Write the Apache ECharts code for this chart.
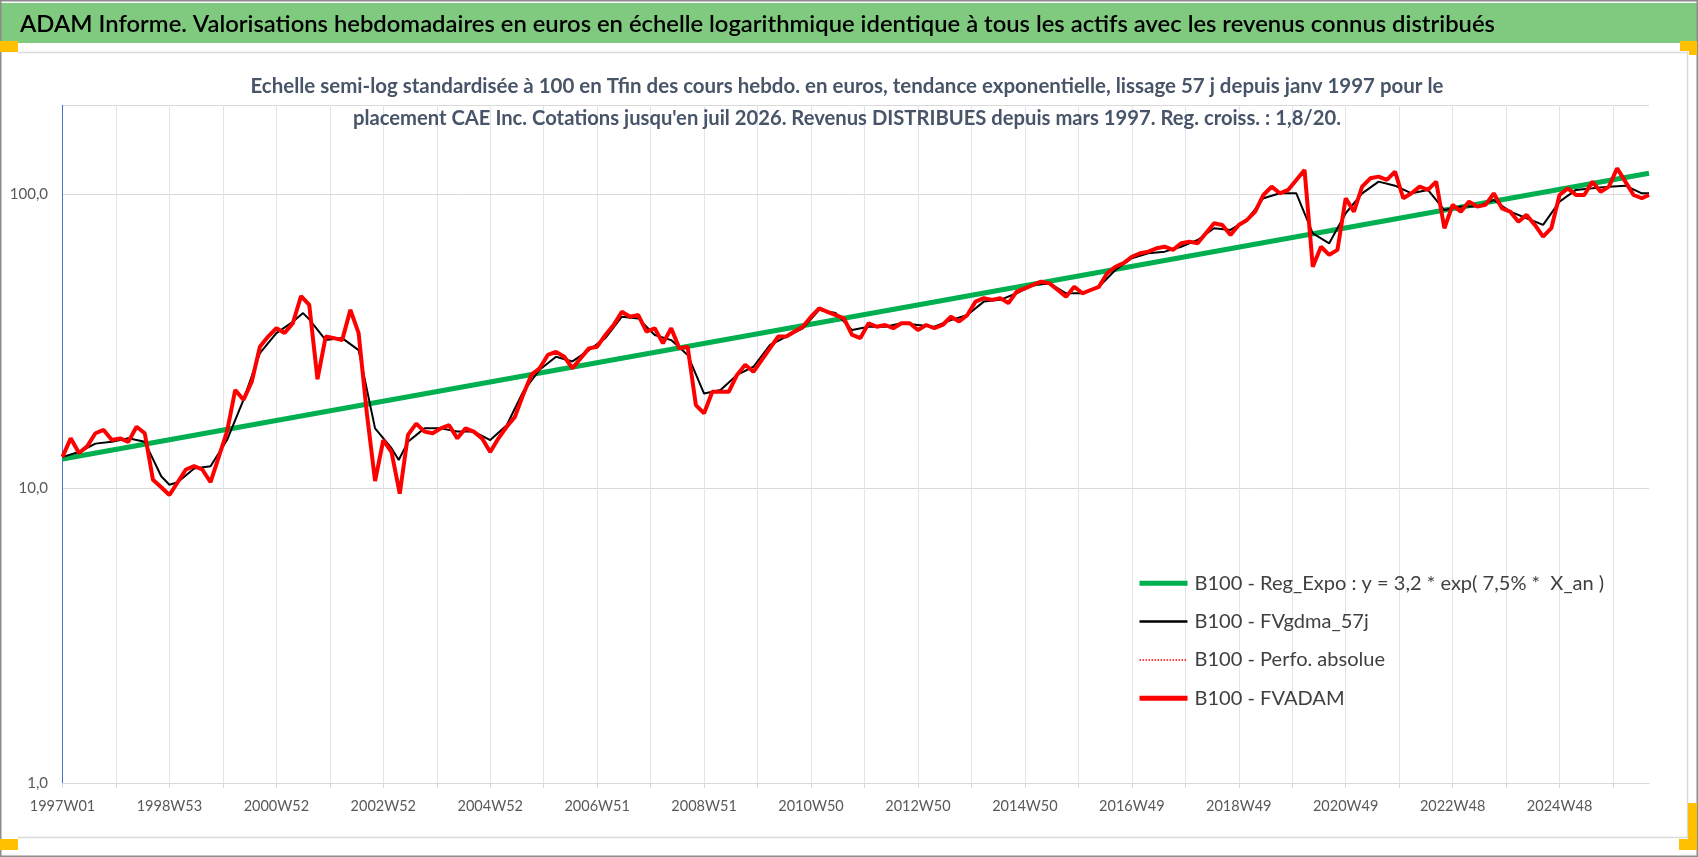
<!DOCTYPE html>
<html>
<head>
<meta charset="utf-8">
<script src="https://cdn.jsdelivr.net/npm/echarts@6/dist/echarts.min.js"></script>
<style>
html,body{margin:0;padding:0;background:#fff;}
#c{width:1698px;height:857px;}
</style>
</head>
<body>
<div id="c"></div>
<script>
// ---------- texts ----------
const mainTitle = "ADAM Informe. Valorisations hebdomadaires en euros en échelle logarithmique identique à tous les actifs avec les revenus connus distribués";
const subTitleLines = [
  "Echelle semi-log standardisée à 100 en Tfin des cours hebdo. en euros, tendance exponentielle, lissage 57 j depuis janv 1997 pour le",
  "placement CAE Inc. Cotations jusqu'en juil 2026. Revenus DISTRIBUES depuis mars 1997. Reg. croiss. : 1,8/20."
];
const seriesNames = [
  "B100 - Reg_Expo : y = 3,2 * exp( 7,5% *  X_an )",
  "B100 - FVgdma_57j",
  "B100 - Perfo. absolue",
  "B100 - FVADAM"
];

// ---------- categories: weekly from 1997-01-01 (ISO week labels) ----------
const weekCount = 1544;
const firstWeekUTC = Date.UTC(1997, 0, 1);
function isoWeekLabel(ms) {
  const t = new Date(ms);
  const day = t.getUTCDay() || 7;
  t.setUTCDate(t.getUTCDate() + 4 - day);
  const y = t.getUTCFullYear();
  const w = Math.ceil(((t - Date.UTC(y, 0, 1)) / 86400000 + 1) / 7);
  return y + "W" + String(w).padStart(2, "0");
}
const weekLabels = [];
for (let i = 0; i < weekCount; i++) weekLabels.push(isoWeekLabel(firstWeekUTC + i * 7 * 86400000));

// ---------- y tick labels ----------
const yTickLabels = { 1: "1,0", 10: "10,0", 100: "100,0" };

// ---------- series values ----------
// FVADAM: one reading every 8 weeks (week 0, 8, 16, ...), last reading at the final week
const fvadamStep = 8;
const fvadamValues = [
  12.8, 14.8, 13.2, 13.9, 15.4, 15.8, 14.6, 14.8, 14.4, 16.2,
  15.4, 10.7, 10.1, 9.5, 10.5, 11.6, 11.9, 11.6, 10.5, 12.8,
  15.6, 21.6, 20.0, 23.0, 30.3, 32.8, 35.0, 33.7, 36.4, 45.0,
  42.0, 23.5, 32.8, 32.4, 31.9, 40.4, 33.7, 18.0, 10.6, 14.6,
  13.3, 9.6, 15.2, 16.6, 15.6, 15.4, 16.0, 16.4, 14.8, 16.0,
  15.6, 14.8, 13.3, 14.8, 16.2, 17.5, 20.8, 24.3, 25.6, 28.4,
  29.1, 28.0, 25.6, 27.7, 29.9, 30.3, 33.2, 35.9, 39.8, 38.3,
  38.8, 34.1, 35.0, 31.1, 35.0, 29.9, 30.3, 19.2, 18.0,
  21.3, 21.3, 21.3, 24.3, 26.3, 24.9, 27.3, 29.9, 32.8, 32.8,
  34.1, 35.4, 38.3, 40.9, 39.8, 38.8, 37.8, 33.2, 32.4, 36.4,
  35.4, 35.9, 35.0, 36.4, 36.4, 34.5, 35.9, 35.0, 35.9, 38.3,
  36.9, 38.8, 43.1, 44.3, 43.7, 44.3, 42.6, 46.6, 47.8,
  49.1, 50.4, 49.7, 47.2, 44.8, 48.4, 46.0, 47.2, 48.4, 53.8,
  56.6, 58.2, 61.2, 62.9, 63.7, 65.4, 66.2, 64.6, 68.0, 68.9,
  68.0, 73.5, 79.5, 78.5, 72.6, 78.5, 81.6, 87.1, 99.2, 105.9,
  100.5, 103.2, 111.6, 120.6, 56.6, 66.2, 62.1, 64.6, 96.7, 87.1,
  105.9, 113.0, 114.5, 111.6, 119.1, 96.7, 100.5, 105.9, 103.2, 110.1,
  76.5, 91.8, 87.1, 94.2, 90.6, 91.8, 100.5, 89.4, 87.1, 80.5,
  84.9, 78.5, 71.6, 76.5, 99.2, 104.5, 99.2, 99.2, 110.1, 101.8,
  105.9, 122.3, 110.1, 99.2, 96.7,
  99.2
];

// FVgdma_57j (smoothed): week index and value
const fvgdmaWeeks = [
  0, 16, 32, 48, 64, 80, 96, 104, 112, 128, 144, 160, 176, 192, 208, 224, 234, 240, 256, 272, 288, 304,
  320, 327, 336, 352, 368, 384, 400, 416, 432, 448, 464, 480, 496, 512, 528, 544, 560, 576, 592, 608, 624,
  640, 656, 672, 688, 704, 720, 736, 752, 768, 784, 800, 816, 832, 848, 864, 880, 896, 912, 928,
  944, 960, 976, 992, 1008, 1024, 1040, 1056, 1072, 1088, 1104, 1120, 1136, 1152, 1168, 1184, 1200, 1216, 1232, 1248,
  1264, 1280, 1296, 1312, 1328, 1344, 1360, 1376, 1392, 1408, 1424, 1440, 1456, 1472, 1488, 1504, 1520, 1536, 1543
];
const fvgdmaValues = [
  12.8, 13.3, 14.2, 14.4, 14.8, 14.4, 11.0, 10.3, 10.5, 11.7, 11.9, 14.6, 20.0, 28.8, 33.7, 36.8, 39.4, 37.5, 31.9, 32.4, 29.5, 16.0,
  13.7, 12.5, 14.4, 16.0, 16.0, 15.6, 15.6, 14.6, 16.4, 21.3, 25.3, 28.0, 27.0, 29.5, 32.4, 38.3, 37.8, 33.2, 31.9, 28.4, 21.0,
  21.6, 24.3, 25.9, 30.7, 32.8, 35.0, 40.4, 39.4, 34.5, 35.4, 35.4, 36.4, 35.9, 35.4, 37.3, 38.8, 43.1, 43.7, 46.0,
  49.1, 49.7, 46.0, 46.0, 48.4, 55.2, 60.5, 62.9, 63.7, 66.2, 69.8, 76.5, 75.5, 81.6, 96.7, 100.5, 100.5, 73.5, 68.0, 86.0,
  100.5, 110.1, 106.7, 100.5, 103.2, 88.2, 90.6, 90.6, 95.4, 87.1, 82.7, 78.5, 94.2, 103.2, 104.5, 105.9, 106.7, 100.5, 100.5
];

// Reg_Expo: straight line on the log scale, given by its two end readings
const regWeeks = [0, 1543];
const regValues = [12.6, 117.6];

// ---------- build series data ----------
const fvadamData = fvadamValues.map((v, i) => [i < fvadamValues.length - 1 ? i * fvadamStep : weekCount - 1, v]);
const fvgdmaData = fvgdmaWeeks.map((w, i) => [w, fvgdmaValues[i]]);
const regData = regWeeks.map((w, i) => [w, regValues[i]]);

// ---------- text fitting helpers ----------
const FONT = "Lato, 'Liberation Sans', Arial, sans-serif";
const mctx = document.createElement("canvas").getContext("2d");
function textW(txt, font) { mctx.font = font; return mctx.measureText(txt).width; }

const titleFont = "600 23px " + FONT;
const titleScale = 1475 / textW(mainTitle, titleFont);
const subFont = "bold 21px " + FONT;
const sub1Scale = 1193 / textW(subTitleLines[0], subFont);
const sub2Scale = 988 / textW(subTitleLines[1], subFont);
const legendFontSize = Math.min(22, 22 * 410 / textW(seriesNames[0], "normal 22px " + FONT));

const chart = echarts.init(document.getElementById("c"), null, { renderer: "canvas" });

const hiddenSymbol = { opacity: 0, borderWidth: 0 };

const option = {
  backgroundColor: "#ffffff",
  animation: false,
  textStyle: { fontFamily: FONT },
  grid: { left: 62.5, right: 49, top: 105.3, bottom: 74, containLabel: false },
  xAxis: {
    type: "category",
    data: weekLabels,
    boundaryGap: false,
    axisLine: { show: true, lineStyle: { color: "#D9D9D9", width: 1 } },
    axisTick: { show: true, interval: 51, length: 5, lineStyle: { color: "#D9D9D9" } },
    axisLabel: { interval: 103, fontSize: 14.5, color: "#595959", margin: 16, fontFamily: FONT },
    splitLine: { show: true, interval: 51, lineStyle: { color: "#DFE5EC", width: 1 } }
  },
  yAxis: {
    type: "log",
    logBase: 10,
    min: 1,
    max: 200,
    axisLine: { show: true, lineStyle: { color: "#4472C4", width: 1 } },
    axisTick: { show: false },
    axisLabel: {
      fontSize: 15, color: "#595959", margin: 14.5, fontFamily: FONT,
      showMaxLabel: false,
      formatter: v => (yTickLabels[Math.round(v)] !== undefined ? yTickLabels[Math.round(v)] : "")
    },
    splitLine: { show: true, lineStyle: { color: "#D9D9D9", width: 1 } }
  },
  legend: {
    orient: "vertical",
    left: 1132,
    top: 568.3,
    itemWidth: 48,
    itemHeight: 14,
    itemGap: 18.3,
    textStyle: { fontSize: legendFontSize, color: "#404040", fontFamily: FONT, lineHeight: 20, padding: [0, 0, 0, 2] },
    data: [
      { name: seriesNames[0], itemStyle: hiddenSymbol, lineStyle: { width: 5, color: "#00B050" } },
      { name: seriesNames[1], itemStyle: hiddenSymbol, lineStyle: { width: 2.5, color: "#000000" } },
      { name: seriesNames[2], itemStyle: hiddenSymbol, lineStyle: { width: 1.5, color: "#FF0000", type: "dotted" } },
      { name: seriesNames[3], itemStyle: hiddenSymbol, lineStyle: { width: 5, color: "#FF0000" } }
    ]
  },
  series: [
    {
      name: seriesNames[0], type: "line", data: regData, showSymbol: false, symbol: "none",
      lineStyle: { color: "#00B050", width: 5 }, itemStyle: { color: "#00B050" }, z: 2
    },
    {
      name: seriesNames[1], type: "line", data: fvgdmaData, showSymbol: false, symbol: "none",
      lineStyle: { color: "#000000", width: 2 }, itemStyle: { color: "#000000" }, z: 3
    },
    {
      name: seriesNames[2], type: "line", data: fvadamData, showSymbol: false, symbol: "none",
      lineStyle: { color: "#FF0000", width: 1.5, type: "dotted" }, itemStyle: { color: "#FF0000" }, z: 3
    },
    {
      name: seriesNames[3], type: "line", data: fvadamData, showSymbol: false, symbol: "none",
      lineStyle: { color: "#FF0000", width: 4 }, itemStyle: { color: "#FF0000" }, z: 4
    }
  ],
  graphic: [
    // header band
    { type: "rect", z: 0, shape: { x: 0, y: 3, width: 1698, height: 40 }, style: { fill: "#7FCA7F" }, silent: true },
    { type: "text", z: 20, x: 20, y: 24.5, scaleX: titleScale, silent: true,
      style: { text: mainTitle, font: titleFont, fill: "#000000", align: "left", verticalAlign: "middle" } },
    // subtitle
    { type: "text", z: 20, x: 847, y: 86.5, scaleX: sub1Scale, silent: true,
      style: { text: subTitleLines[0], font: subFont, fill: "#485568", align: "center", verticalAlign: "middle" } },
    { type: "text", z: 20, x: 847, y: 118.3, scaleX: sub2Scale, silent: true,
      style: { text: subTitleLines[1], font: subFont, fill: "#485568", align: "center", verticalAlign: "middle" } },
    // chart frame lines
    { type: "polyline", z: 20, silent: true, shape: { points: [[18, 52.5], [1687.5, 52.5], [1687.5, 837.5], [18, 837.5]] },
      style: { stroke: "#DADADA", lineWidth: 1.5, fill: null } },
    // outer border
    { type: "rect", z: 21, silent: true, shape: { x: 0.75, y: 0.75, width: 1696.5, height: 855.5 },
      style: { stroke: "#8C8C8C", lineWidth: 1.5, fill: null } },
    // corner markers
    { type: "rect", z: 22, silent: true, shape: { x: 0, y: 41, width: 18, height: 11 }, style: { fill: "#FFC000" } },
    { type: "rect", z: 22, silent: true, shape: { x: 1680, y: 41, width: 17, height: 10 }, style: { fill: "#FFC000" } },
    { type: "rect", z: 22, silent: true, shape: { x: 1689, y: 41, width: 8, height: 14 }, style: { fill: "#FFC000" } },
    { type: "rect", z: 22, silent: true, shape: { x: 0, y: 839, width: 18, height: 11 }, style: { fill: "#FFC000" } },
    { type: "rect", z: 22, silent: true, shape: { x: 1688, y: 803, width: 9, height: 47 }, style: { fill: "#FFC000" } },
    { type: "rect", z: 22, silent: true, shape: { x: 1679, y: 839, width: 18, height: 11 }, style: { fill: "#FFC000" } }
  ]
};
chart.setOption(option);
</script>
</body>
</html>
